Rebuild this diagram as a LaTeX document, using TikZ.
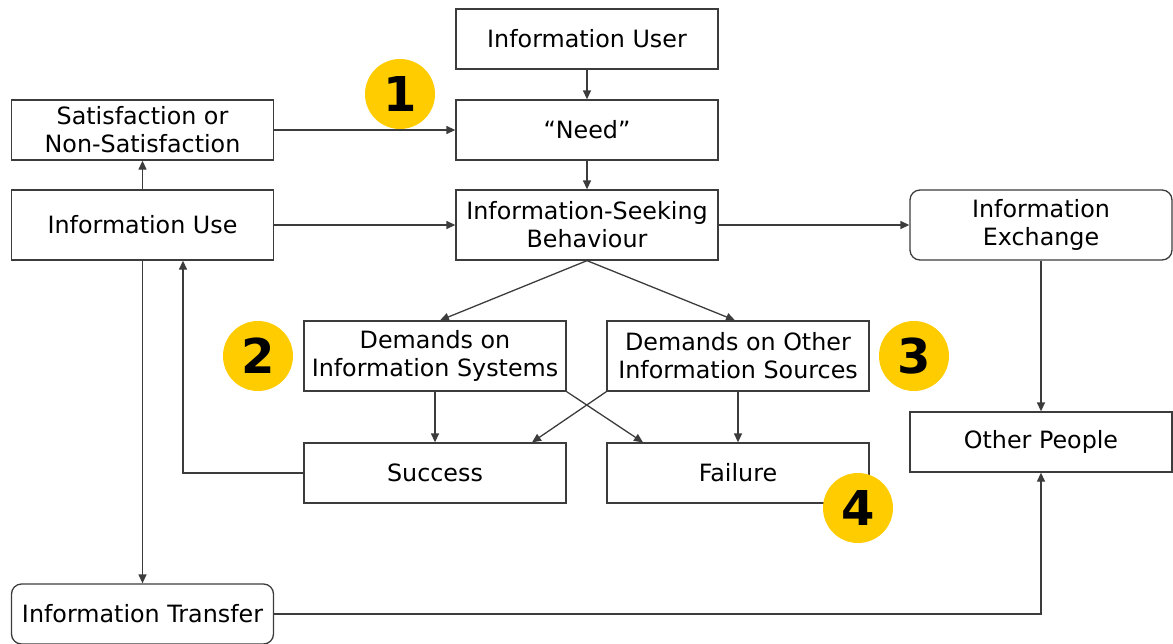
\documentclass[tikz,border=0pt]{standalone}
\usepackage{fontspec}
\setmainfont{DejaVu Sans}
\usetikzlibrary{arrows.meta}
\definecolor{linec}{HTML}{3C3C3C}
\definecolor{badgec}{HTML}{FFCC00}
\begin{document}
\begin{tikzpicture}[x=1pt,y=-1pt,
 box/.style={draw=linec, line width=1.3pt, fill=white, minimum width=262pt, minimum height=60pt, align=center, inner sep=0pt, font=\fontsize{23.8}{28}\selectfont},
 tall/.style={minimum height=70pt},
 rbox/.style={box, rounded corners=10pt},
 arr/.style={draw=linec, line width=1.3pt, -{Triangle[length=9pt,width=8pt]}},
 badge/.style={circle, fill=badgec, minimum size=70pt, inner sep=0pt, font=\fontsize{48}{48}\bfseries\selectfont}]
\useasboundingbox (0,0) rectangle (1173,643);
\node[box] (user) at (587,39) {Information User};
\node[box] (need) at (587,130) {“Need”};
\node[box,tall] (isb) at (587,225) {Information-Seeking\\Behaviour};
\node[box] (sat) at (142.5,130) {Satisfaction or\\Non-Satisfaction};
\node[box,tall] (use) at (142.5,225) {Information Use};
\node[rbox,tall] (exch) at (1041,225) {Information\\Exchange};
\node[box,tall] (dis) at (435,356) {Demands on\\Information Systems};
\node[box,tall] (dos) at (738,356) {Demands on Other\\Information Sources};
\node[box] (succ) at (435,473) {Success};
\node[box] (fail) at (738,473) {Failure};
\node[box] (other) at (1041,442) {Other People};
\node[rbox] (transfer) at (142.5,614) {Information Transfer};
\draw[arr] (user) -- (need);
\draw[arr] (need) -- (isb);
\draw[arr] (sat) -- (need);
\draw[arr] (use) -- (isb);
\draw[arr] (isb) -- (exch);
\draw[arr] (use) -- (sat);
\draw[arr] (isb.south) -- ([xshift=5pt]dis.north);
\draw[arr] (isb.south) -- ([xshift=-3pt]dos.north);
\draw[arr] (dis) -- (succ);
\draw[arr] (dis.south east) -- ([xshift=-95pt]fail.north);
\draw[arr] (dos.south west) -- ([xshift=97pt]succ.north);
\draw[arr] (dos) -- (fail);
\draw[arr] (succ.west) -| ([xshift=40.5pt]use.south);
\draw[arr] (use.south) -- (transfer.north);
\draw[arr] (exch) -- (other);
\draw[arr] (transfer.east) -| (other.south);
\node[badge] (b1) at (400,94) {1};
\node[badge] (b2) at (258,356) {2};
\node[badge] (b3) at (914,356) {3};
\node[badge] (b4) at (858,508) {4};
\end{tikzpicture}
\end{document}
